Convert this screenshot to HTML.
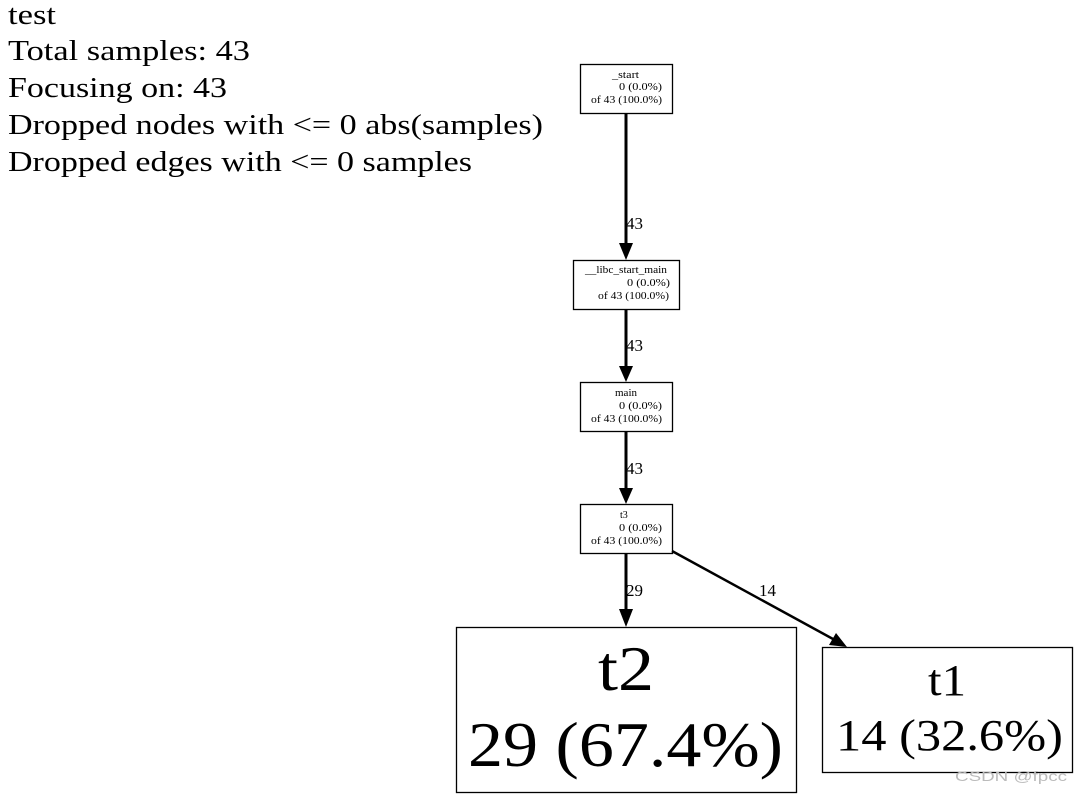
<!DOCTYPE html>
<html><head><meta charset="utf-8"><style>
html,body{margin:0;padding:0;background:#fff;}
svg{display:block;font-family:"Liberation Serif",serif;}
</style></head><body>
<svg width="1080" height="796" viewBox="0 0 1080 796" xmlns="http://www.w3.org/2000/svg">
<rect width="1080" height="796" fill="#fff"/>
<g font-size="28" fill="#000" lengthAdjust="spacingAndGlyphs">
<text x="8" y="24" textLength="48" lengthAdjust="spacingAndGlyphs">test</text>
<text x="8" y="60" textLength="242" lengthAdjust="spacingAndGlyphs">Total samples: 43</text>
<text x="8" y="97" textLength="219" lengthAdjust="spacingAndGlyphs">Focusing on: 43</text>
<text x="8" y="134" textLength="535" lengthAdjust="spacingAndGlyphs">Dropped nodes with &lt;= 0 abs(samples)</text>
<text x="8" y="171" textLength="464" lengthAdjust="spacingAndGlyphs">Dropped edges with &lt;= 0 samples</text>
</g>
<g fill="#fff" stroke="#000" stroke-width="1.3">
<rect x="580.5" y="64.5" width="92" height="49"/>
<rect x="573.5" y="260.5" width="106" height="49"/>
<rect x="580.5" y="382.5" width="92" height="49"/>
<rect x="580.5" y="504.5" width="92" height="49"/>
<rect x="456.5" y="627.5" width="340" height="165"/>
<rect x="822.5" y="647.5" width="250" height="125"/>
</g>
<g font-size="10" fill="#000">
<text x="612" y="78" textLength="27" lengthAdjust="spacingAndGlyphs">_start</text><text x="619" y="90" textLength="43" lengthAdjust="spacingAndGlyphs">0 (0.0%)</text><text x="591" y="103" textLength="71" lengthAdjust="spacingAndGlyphs">of 43 (100.0%)</text>
<text x="585" y="273" textLength="82" lengthAdjust="spacingAndGlyphs">__libc_start_main</text><text x="627" y="286" textLength="43" lengthAdjust="spacingAndGlyphs">0 (0.0%)</text><text x="598" y="299" textLength="71" lengthAdjust="spacingAndGlyphs">of 43 (100.0%)</text>
<text x="615" y="396" textLength="22" lengthAdjust="spacingAndGlyphs">main</text><text x="619" y="409" textLength="43" lengthAdjust="spacingAndGlyphs">0 (0.0%)</text><text x="591" y="422" textLength="71" lengthAdjust="spacingAndGlyphs">of 43 (100.0%)</text>
<text x="620" y="518">t3</text><text x="619" y="531" textLength="43" lengthAdjust="spacingAndGlyphs">0 (0.0%)</text><text x="591" y="544" textLength="71" lengthAdjust="spacingAndGlyphs">of 43 (100.0%)</text>
</g>
<g font-size="64"><text x="598" y="690" textLength="56" lengthAdjust="spacingAndGlyphs">t2</text><text x="468" y="766" textLength="315" lengthAdjust="spacingAndGlyphs">29 (67.4%)</text></g>
<g font-size="44"><text x="928" y="695" textLength="38" lengthAdjust="spacingAndGlyphs">t1</text><text x="836" y="750" textLength="227" lengthAdjust="spacingAndGlyphs">14 (32.6%)</text></g>
<g stroke="#000" stroke-width="3" fill="none">
<line x1="626" y1="114" x2="626" y2="244"/>
<line x1="626" y1="310" x2="626" y2="367"/>
<line x1="626" y1="432" x2="626" y2="489"/>
<line x1="626" y1="554" x2="626" y2="610"/>
<line x1="672" y1="551" x2="833" y2="639" stroke-width="2.5"/>
</g>
<g fill="#000">
<polygon points="619,243 633,243 626,260"/>
<polygon points="619,366 633,366 626,382"/>
<polygon points="619,488 633,488 626,504"/>
<polygon points="619,609 633,609 626,627"/>
<polygon points="829,645 836,633 847,647"/>
</g>
<g font-size="17" fill="#000">
<text x="626" y="229">43</text><text x="626" y="351">43</text><text x="626" y="474">43</text><text x="626" y="596">29</text><text x="759" y="596">14</text>
</g>
<text x="955" y="781" font-family="Liberation Sans,sans-serif" font-size="14" fill="#bbb" textLength="112" lengthAdjust="spacingAndGlyphs">CSDN @fpcc</text>
</svg>
</body></html>
